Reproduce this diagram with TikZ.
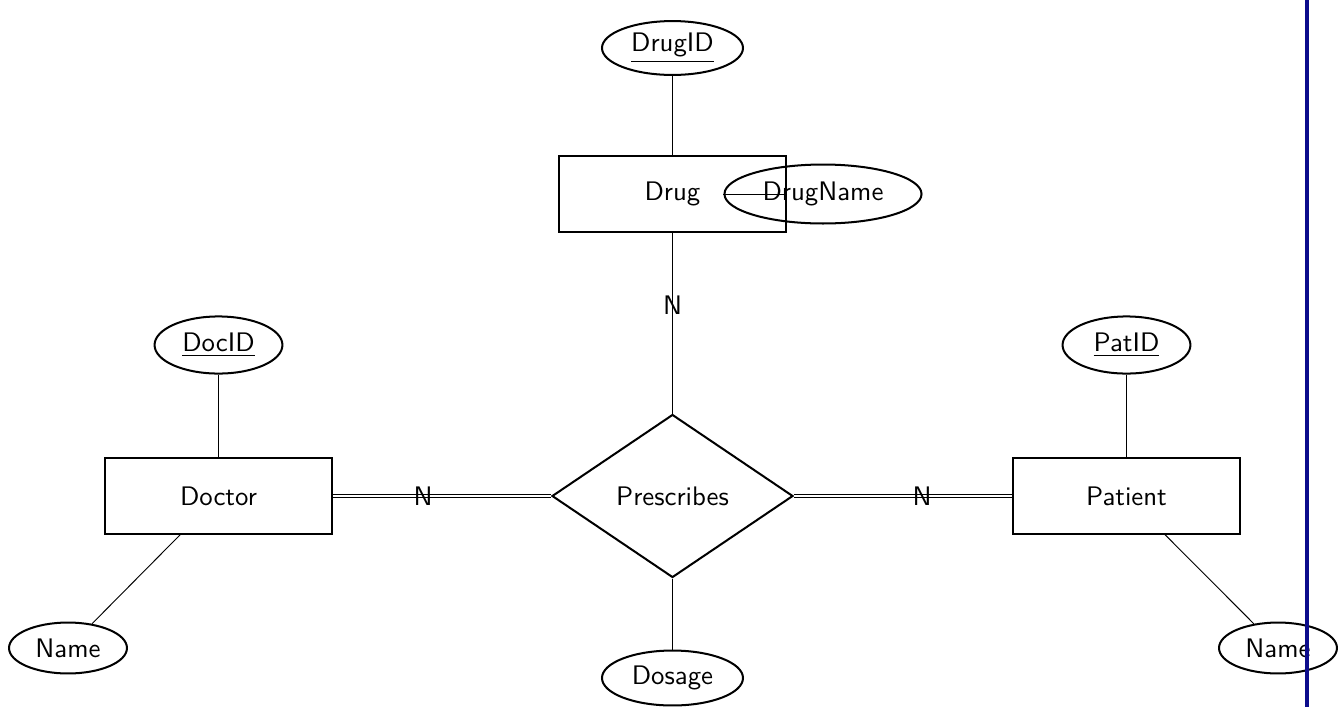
\documentclass[tikz,border=0pt]{standalone}
\usetikzlibrary{shapes.geometric}
\definecolor{barblue}{RGB}{12,12,140}
\begin{document}
\begin{tikzpicture}[x=0.373pt,y=-0.373pt,
  font=\sffamily,
  entity/.style={draw,line width=0.75pt,rectangle,inner sep=0pt,minimum width=84.7pt,minimum height=28pt},
  relation/.style={draw,line width=0.75pt,diamond,inner sep=0pt,minimum width=89.9pt,minimum height=60.8pt},
  attr/.style={draw,line width=0.75pt,ellipse,inner sep=0pt},
  link/.style={line width=0.35pt},
  total/.style={double,line width=0.4pt,double distance=0.8pt},
  card/.style={inner sep=0pt}]
\useasboundingbox (0,0) rectangle (1341,707);

% entities and the relationship
\node[entity] (drug) at (672.5,194) {Drug};
\node[entity] (doctor) at (218.5,496) {Doctor};
\node[entity] (patient) at (1126.5,496) {Patient};
\node[relation] (presc) at (672.5,496) {Prescribes};

% attributes
\node[attr,minimum width=52.6pt,minimum height=20.1pt] (drugid) at (672.5,48) {\underline{DrugID}};
\node[attr,minimum width=73.5pt,minimum height=22pt] (drugname) at (823,194) {DrugName};
\node[attr,minimum width=47.7pt,minimum height=21.3pt] (docid) at (218.5,345) {\underline{DocID}};
\node[attr,minimum width=47.7pt,minimum height=21.3pt] (patid) at (1126.5,345) {\underline{PatID}};
\node[attr,minimum width=44pt,minimum height=19pt] (docname) at (68,648) {Name};
\node[attr,minimum width=44pt,minimum height=19pt] (patname) at (1278,648) {Name};
\node[attr,minimum width=52.6pt,minimum height=20.5pt] (dosage) at (672.5,678) {Dosage};

% attribute links
\draw[link] (drugid) -- (drug);
\draw[link] (drug.east) -- (drugname.west);
\draw[link] (docid) -- (doctor);
\draw[link] (patid) -- (patient);
\draw[link] (doctor) -- (docname);
\draw[link] (patient) -- (patname);
\draw[link] (presc) -- (dosage);

% participation links with cardinalities
\draw[link] (drug) -- (presc);
\node[card] (cdrug) at (672.5,305) {N};
\draw[total] (doctor) -- (presc);
\node[card] (cdoc) at (423,496) {N};
\draw[total] (presc) -- (patient);
\node[card] (cpat) at (922,496) {N};

% frame edge bar
\draw[barblue,line width=1.6pt] (1307,0) -- (1307,707);
\end{tikzpicture}
\end{document}
